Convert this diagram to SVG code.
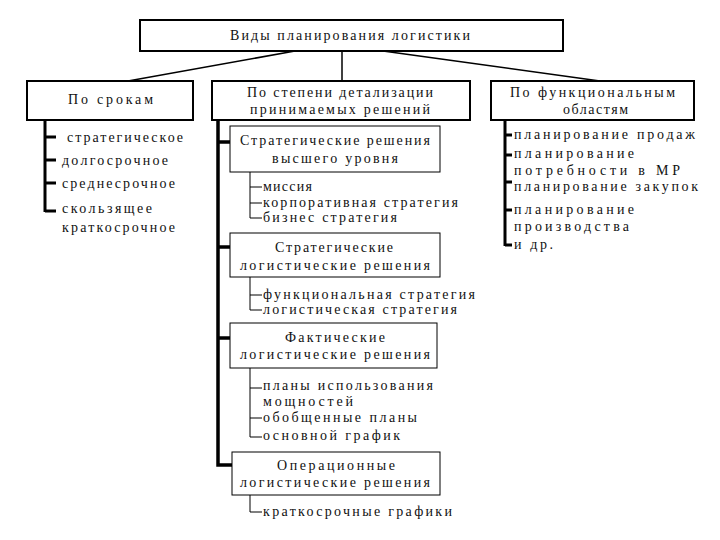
<svg xmlns="http://www.w3.org/2000/svg" width="720" height="540" viewBox="0 0 720 540">
<style>
text{font-family:"Liberation Serif","DejaVu Serif",serif;font-size:14px;fill:#111}
.hb{fill:#fff;stroke:#000;stroke-width:2}
.sb{fill:#fff;stroke:#000;stroke-width:1}
.thin{stroke:#000;stroke-width:1;fill:none}
.thick{stroke:#000;stroke-width:3;fill:none}
.con{stroke:#000;stroke-width:1.5;fill:none}
</style>
<rect width="720" height="540" fill="#fff"/>
<g id="connectors">
<line class="con" x1="295" y1="51" x2="128" y2="81"/>
<line class="con" x1="342" y1="51" x2="342" y2="81"/>
<line class="con" x1="383" y1="51" x2="600" y2="81"/>
<path class="thick" d="M45 120V212M45 137H56M45 160H56M45 183H56M45 211H56"/>
<path class="thick" d="M218 120V465H232M218 142H230M218 247H230M218 338H230" style="stroke-width:3.5"/>
<path class="thin" d="M250 172V218M250 187H262M250 203H262M250 218H262"/>
<path class="thin" d="M250 277V310M250 295H262M250 310H262"/>
<path class="thin" d="M250 368V437M250 388H262M250 418H262M250 437H262"/>
<path class="thin" d="M250 495V512H262"/>
<path class="thick" d="M505 120V246M505 135H512M505 155H512M505 182H512M505 210H512M505 245H512"/>
</g>
<g id="title">
<rect class="hb" x="140" y="20" width="423" height="31"/>
<text x="230" y="40" textLength="240" lengthAdjust="spacing">Виды планирования логистики</text>
</g>
<g id="po-srokam">
<rect class="hb" x="27" y="81" width="166" height="39"/>
<text x="68" y="104" textLength="85" lengthAdjust="spacing">По срокам</text>
</g>
<g id="po-stepeni">
<rect class="hb" x="212" y="81" width="258" height="39"/>
<text x="247" y="97" textLength="186" lengthAdjust="spacing">По степени детализации</text>
<text x="250" y="114" textLength="180" lengthAdjust="spacing">принимаемых решений</text>
</g>
<g id="po-funkc">
<rect class="hb" x="491" y="81" width="203" height="39"/>
<text x="510" y="97" textLength="165" lengthAdjust="spacing">По функциональным</text>
<text x="563" y="114" textLength="65" lengthAdjust="spacing">областям</text>
</g>
<g id="left-items">
<text x="67" y="142" textLength="116" lengthAdjust="spacing">стратегическое</text>
<text x="62" y="165" textLength="106" lengthAdjust="spacing">долгосрочное</text>
<text x="62" y="188" textLength="113" lengthAdjust="spacing">среднесрочное</text>
<text x="62" y="213" textLength="90" lengthAdjust="spacing">скользящее</text>
<text x="62" y="232" textLength="113" lengthAdjust="spacing">краткосрочное</text>
</g>
<g id="box-a">
<rect class="sb" x="230" y="126" width="210" height="46"/>
<text x="240" y="145" textLength="190" lengthAdjust="spacing">Стратегические решения</text>
<text x="272" y="163" textLength="126" lengthAdjust="spacing">высшего уровня</text>
</g>
<g id="items-a">
<text x="263" y="191" textLength="49" lengthAdjust="spacing">миссия</text>
<text x="263" y="207" textLength="195" lengthAdjust="spacing">корпоративная стратегия</text>
<text x="263" y="222" textLength="134" lengthAdjust="spacing">бизнес стратегия</text>
</g>
<g id="box-b">
<rect class="sb" x="230" y="233" width="210" height="44"/>
<text x="275" y="252" textLength="118" lengthAdjust="spacing">Стратегические</text>
<text x="240" y="270" textLength="190" lengthAdjust="spacing">логистические решения</text>
</g>
<g id="items-b">
<text x="263" y="299" textLength="212" lengthAdjust="spacing">функциональная стратегия</text>
<text x="263" y="314" textLength="194" lengthAdjust="spacing">логистическая стратегия</text>
</g>
<g id="box-c">
<rect class="sb" x="230" y="323" width="207" height="45"/>
<text x="285" y="342" textLength="100" lengthAdjust="spacing">Фактические</text>
<text x="240" y="359" textLength="190" lengthAdjust="spacing">логистические решения</text>
</g>
<g id="items-c">
<text x="263" y="390" textLength="170" lengthAdjust="spacing">планы использования</text>
<text x="263" y="406" textLength="90" lengthAdjust="spacing">мощностей</text>
<text x="263" y="422" textLength="154" lengthAdjust="spacing">обобщенные планы</text>
<text x="263" y="440" textLength="137" lengthAdjust="spacing">основной график</text>
</g>
<g id="box-d">
<rect class="sb" x="232" y="452" width="208" height="43"/>
<text x="277" y="470" textLength="118" lengthAdjust="spacing">Операционные</text>
<text x="240" y="487" textLength="190" lengthAdjust="spacing">логистические решения</text>
</g>
<g id="items-d">
<text x="263" y="516" textLength="189" lengthAdjust="spacing">краткосрочные графики</text>
</g>
<g id="right-items">
<text x="514" y="139" textLength="181" lengthAdjust="spacing">планирование продаж</text>
<text x="514" y="158" textLength="120" lengthAdjust="spacing">планирование</text>
<text x="514" y="175" textLength="166" lengthAdjust="spacing">потребности в МР</text>
<text x="514" y="191" textLength="184" lengthAdjust="spacing">планирование закупок</text>
<text x="514" y="214" textLength="120" lengthAdjust="spacing">планирование</text>
<text x="514" y="231" textLength="115" lengthAdjust="spacing">производства</text>
<text x="514" y="249" textLength="39" lengthAdjust="spacing">и др.</text>
</g>
</svg>
